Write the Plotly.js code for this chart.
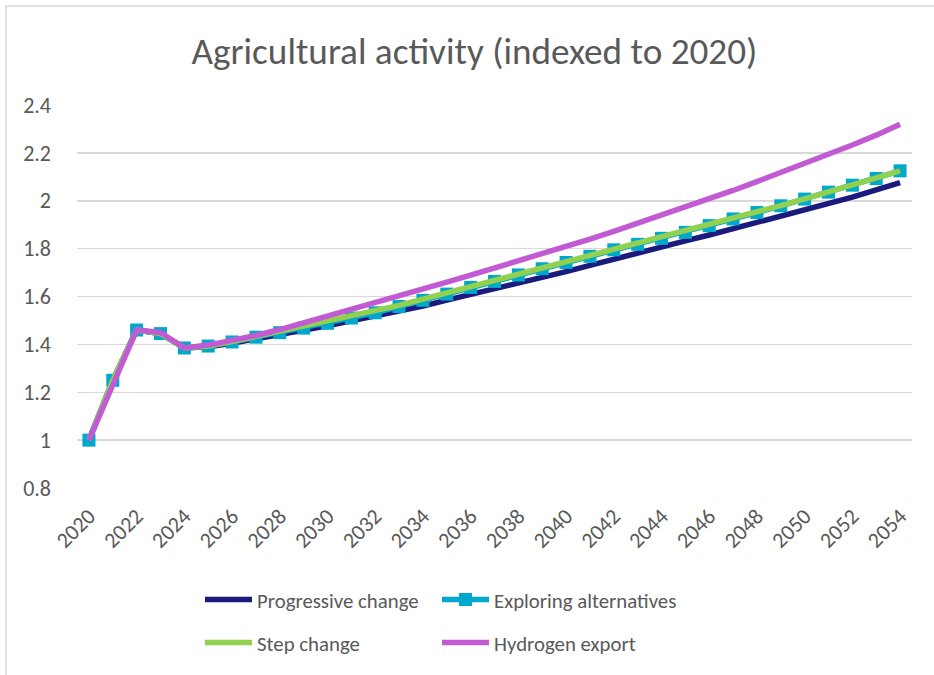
<!DOCTYPE html>
<html>
<head>
<meta charset="utf-8">
<script src="https://cdn.plot.ly/plotly-3.0.1.min.js"></script>
<style>
  html, body { margin: 0; padding: 0; background: #fff; }
  #chart { width: 934px; height: 675px; }
</style>
</head>
<body>
<div id="chart"></div>
<script>
// Years on the category axis
const years = [2020, 2021, 2022, 2023, 2024, 2025, 2026, 2027, 2028, 2029,
               2030, 2031, 2032, 2033, 2034, 2035, 2036, 2037, 2038, 2039,
               2040, 2041, 2042, 2043, 2044, 2045, 2046, 2047, 2048, 2049,
               2050, 2051, 2052, 2053, 2054];

// Labelled years (every second year)
const tickYears = [2020, 2022, 2024, 2026, 2028, 2030, 2032, 2034, 2036, 2038,
                   2040, 2042, 2044, 2046, 2048, 2050, 2052, 2054];

// Value-axis ticks
const yTicks = [0.8, 1, 1.2, 1.4, 1.6, 1.8, 2, 2.2, 2.4];

// Scenario index values (2020 = 1)
const progressiveChange = [1.00, 1.25, 1.46, 1.445, 1.385, 1.390, 1.405, 1.422, 1.440, 1.459,
                           1.478, 1.498, 1.518, 1.538, 1.560, 1.585, 1.608, 1.632, 1.656, 1.680,
                           1.704, 1.730, 1.757, 1.782, 1.807, 1.832, 1.857, 1.883, 1.909, 1.935,
                           1.960, 1.988, 2.015, 2.045, 2.076];

const exploringAlternatives = [1.00, 1.25, 1.46, 1.445, 1.385, 1.393, 1.410, 1.430, 1.449, 1.468,
                               1.488, 1.510, 1.532, 1.558, 1.584, 1.610, 1.638, 1.663, 1.690, 1.716,
                               1.742, 1.768, 1.795, 1.818, 1.843, 1.868, 1.896, 1.924, 1.951, 1.979,
                               2.007, 2.036, 2.065, 2.093, 2.125];

const stepChange = [1.00, 1.25, 1.46, 1.445, 1.385, 1.393, 1.412, 1.434, 1.455, 1.475,
                    1.495, 1.517, 1.539, 1.563, 1.589, 1.615, 1.642, 1.668, 1.694, 1.720,
                    1.746, 1.772, 1.798, 1.822, 1.847, 1.872, 1.899, 1.926, 1.953, 1.980,
                    2.008, 2.036, 2.065, 2.094, 2.125];

const hydrogenExport = [1.00, 1.23, 1.46, 1.45, 1.385, 1.397, 1.415, 1.437, 1.462, 1.490,
                        1.517, 1.544, 1.571, 1.599, 1.629, 1.660, 1.689, 1.718, 1.748, 1.778,
                        1.809, 1.840, 1.872, 1.905, 1.938, 1.972, 2.007, 2.043, 2.080, 2.117,
                        2.155, 2.193, 2.233, 2.274, 2.320];

const FONT = 'Carlito, Calibri, Lato, "Open Sans", sans-serif';
const TEXT = '#595959';
const GRID = '#D9D9D9';

const traces = [
  {
    name: 'Progressive change', x: years, y: progressiveChange, type: 'scatter', mode: 'lines',
    line: { color: '#1B1A7E', width: 5.5 }, legend: 'legend'
  },
  {
    name: 'Exploring alternatives', x: years, y: exploringAlternatives, type: 'scatter', mode: 'lines+markers',
    line: { color: '#00A8CC', width: 5.5 },
    marker: { symbol: 'square', size: 13, color: '#00A8CC' }, legend: 'legend2'
  },
  {
    name: 'Step change', x: years, y: stepChange, type: 'scatter', mode: 'lines',
    line: { color: '#92D050', width: 5.5 }, legend: 'legend3'
  },
  {
    name: 'Hydrogen export', x: years, y: hydrogenExport, type: 'scatter', mode: 'lines',
    line: { color: '#C15AD3', width: 5.5 }, legend: 'legend4'
  }
];

// One legend box per entry (placed against the whole figure) so the
// two-column grid sits exactly where it should
function legendAt(x, y) {
  return {
    orientation: 'v',
    xref: 'container', yref: 'container',
    x: x, xanchor: 'left',
    y: y, yanchor: 'middle',
    font: { family: FONT, size: 20.8, color: TEXT },
    itemwidth: 47,
    bgcolor: 'rgba(0,0,0,0)'
  };
}

const col1 = 200 / 934, col2 = 437 / 934;
const row1 = 75 / 675, row2 = 32 / 675;

const layout = {
  width: 934, height: 675,
  paper_bgcolor: '#FFFFFF', plot_bgcolor: '#FFFFFF',
  margin: { l: 77, r: 22, t: 105, b: 187, autoexpand: false },
  title: {
    text: 'Agricultural activity (indexed to 2020)',
    font: { family: FONT, size: 37.2, color: TEXT },
    x: 0.508, xanchor: 'center', y: 0.925, yanchor: 'middle'
  },
  xaxis: {
    range: [2019.5, 2054.5],
    tickmode: 'array', tickvals: tickYears, ticktext: tickYears.map(String),
    tickangle: -45,
    tickfont: { family: FONT, size: 22, color: TEXT },
    ticklabelstandoff: 10,
    showgrid: false, zeroline: false, showline: false,
    ticks: '', fixedrange: true
  },
  yaxis: {
    range: [0.8, 2.4],
    tickmode: 'array', tickvals: yTicks, ticktext: yTicks.map(String),
    tickfont: { family: FONT, size: 22, color: TEXT },
    ticklabelstandoff: 25,
    showgrid: true, gridcolor: GRID, gridwidth: 1.5,
    zeroline: false, showline: false, ticks: '',
    automargin: false, fixedrange: true
  },
  showlegend: true,
  legend: legendAt(col1, row1),
  legend2: legendAt(col2, row1),
  legend3: legendAt(col1, row2),
  legend4: legendAt(col2, row2),
  shapes: [
    // chart frame
    {
      type: 'rect', xref: 'paper', yref: 'paper',
      x0: -0.0850, x1: 1.2, y0: -0.8, y1: 1.2585,
      line: { color: GRID, width: 1.5 }, fillcolor: 'rgba(0,0,0,0)', layer: 'below'
    }
  ],
  hovermode: false
};

Plotly.newPlot('chart', traces, layout, { staticPlot: true, displayModeBar: false });
</script>
</body>
</html>
